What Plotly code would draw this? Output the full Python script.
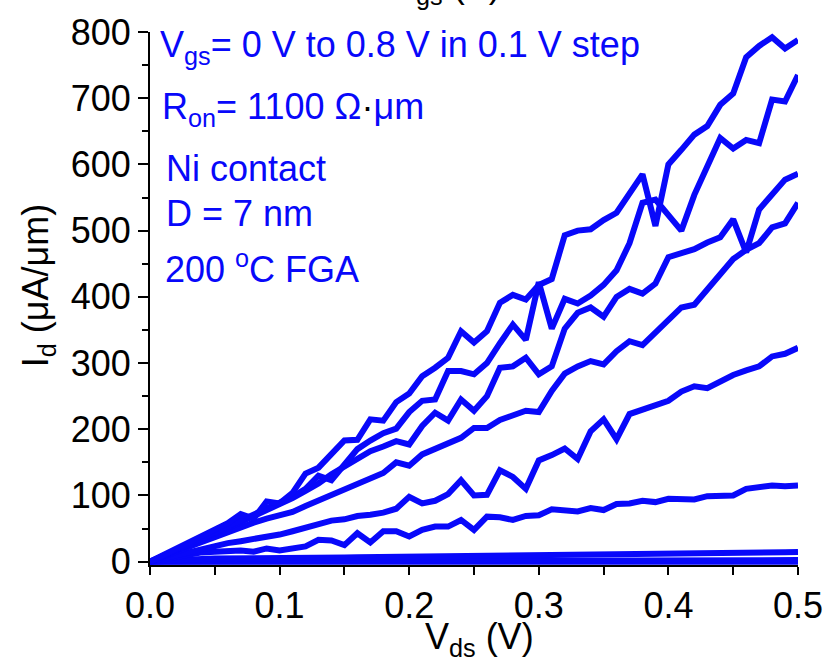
import plotly.graph_objects as go

# Drain voltage sweep (V)
vds = [round(0.01 * i, 2) for i in range(51)]

# Drain current (uA/um) for each gate voltage, Vgs = 0.8 V down to 0 V
id_vgs_08 = [0, 10, 20, 29, 39, 48, 58, 72, 65, 91, 88, 104, 133, 142, 162, 183, 184, 215, 213, 241,
             254, 280, 293, 308, 348, 331, 348, 391, 403, 396, 418, 427, 493, 500, 502, 516, 527, 557,
             585, 507, 600, 622, 645, 658, 690, 707, 762, 779, 792, 775, 788]
id_vgs_07 = [0, 9, 18, 27, 36, 45, 53, 61, 70, 79, 88, 98, 110, 130, 123, 148, 170, 183, 194, 201,
             226, 243, 245, 288, 288, 283, 300, 330, 358, 335, 422, 352, 397, 390, 402, 418, 440, 481,
             542, 547, 522, 500, 554, 597, 640, 624, 637, 632, 698, 695, 735]
id_vgs_06 = [0, 9, 17, 26, 34, 43, 51, 60, 68, 77, 86, 96, 107, 118, 132, 144, 156, 167, 174, 182,
             177, 205, 225, 213, 245, 228, 250, 293, 295, 308, 283, 295, 352, 376, 384, 370, 400, 412,
             405, 420, 460, 465, 472, 482, 490, 517, 467, 532, 556, 577, 586]
id_vgs_05 = [0, 8, 16, 23, 30, 37, 45, 53, 59, 65, 69, 75, 84, 92, 100, 110, 118, 125, 134, 150,
             145, 162, 170, 179, 187, 202, 202, 214, 220, 228, 226, 258, 284, 295, 303, 298, 318, 333,
             327, 347, 367, 384, 388, 410, 434, 457, 471, 481, 505, 511, 542]
id_vgs_04 = [0, 5, 10, 15, 20, 25, 28, 31, 34, 38, 41, 46, 51, 56, 62, 64, 69, 71, 74, 80,
             98, 88, 92, 102, 123, 100, 101, 138, 128, 110, 153, 161, 171, 155, 197, 215, 185, 223,
             230, 238, 243, 257, 265, 262, 272, 282, 289, 295, 310, 314, 323]
id_vgs_03 = [0, 4, 8, 11, 14, 15, 16, 17, 15, 20, 17, 20, 23, 33, 32, 25, 43, 29, 46, 46,
             38, 48, 53, 53, 63, 48, 68, 67, 63, 69, 70, 79, 77, 76, 81, 78, 87, 88,
             92, 90, 95, 95, 94, 99, 100, 100, 110, 112, 115, 114, 115]
id_vgs_02 = [0, 1.5, 2.5, 3.5, 4.2, 4.8, 5.2, 5.5, 5.7, 5.9, 6.0, 6.1, 6.2, 6.3, 6.4, 6.5, 6.6, 6.8,
             6.9, 7.0, 7.2, 7.3, 7.4, 7.6, 7.7, 7.8, 7.9, 8.0, 8.2, 8.3, 8.5, 8.7, 8.9, 9.0, 9.2,
             9.4, 9.6, 9.8, 10.0, 10.2, 10.5, 10.7, 10.9, 11.0, 11.2, 11.5, 13.0, 13.6, 14.0, 14.3, 14.8]
id_vgs_01 = [0, 0.2, 0.4, 0.5, 0.6, 0.7, 0.7, 0.8, 0.8, 0.9, 0.9, 0.9, 1.0, 1.0, 1.0, 1.1, 1.1, 1.1,
             1.2, 1.2, 1.2, 1.3, 1.3, 1.3, 1.4, 1.4, 1.4, 1.5, 1.5, 1.5, 1.6, 1.6, 1.6, 1.7, 1.7,
             1.7, 1.8, 1.8, 1.8, 1.9, 1.9, 2.0, 2.0, 2.0, 2.1, 2.1, 2.2, 2.2, 2.3, 2.3, 2.4]
id_vgs_00 = [0] * 51

curves = [id_vgs_00, id_vgs_01, id_vgs_02, id_vgs_03, id_vgs_04,
          id_vgs_05, id_vgs_06, id_vgs_07, id_vgs_08]

x_ticks = [0.0, 0.1, 0.2, 0.3, 0.4, 0.5]
y_ticks = [0, 100, 200, 300, 400, 500, 600, 700, 800]

BLUE = "rgb(8,8,250)"
FONT = "Liberation Sans, Arial, sans-serif"

W, H = 835, 662
ML, MR, MT, MB = 150, 36, 28, 97
PW, PH = W - ML - MR, H - MT - MB


def pxx(px):
    return (px - ML) / PW


def pxy(py):
    return (H - MB - py) / PH


fig = go.Figure()
for ys in curves:
    fig.add_trace(go.Scatter(x=vds, y=ys, mode="lines",
                             line=dict(color=BLUE, width=6),
                             showlegend=False, hoverinfo="skip"))

axis_common = dict(showline=True, linecolor="black", linewidth=2,
                   ticks="outside", tickcolor="black", tickwidth=2,
                   showgrid=False, zeroline=False,
                   tickfont=dict(family=FONT, size=36, color="black"))

fig.update_xaxes(range=[0, 0.5], tickvals=x_ticks, tickformat=".1f", ticklen=8,
                 minor=dict(ticks="outside", ticklen=8, dtick=0.05, tickcolor="black", tickwidth=2),
                 **axis_common)
fig.update_yaxes(range=[-5, 800], tickvals=y_ticks, ticklen=10,
                 minor=dict(ticks="outside", ticklen=6, dtick=50, tickcolor="black", tickwidth=2),
                 **axis_common)

blue_font = dict(family=FONT, size=36, color=BLUE)
labels = [
    ("V<sub>gs</sub>= 0 V to 0.8 V in 0.1 V step", 158, 43),
    ("R<sub>on</sub>= 1100 \u03a9<span style='color:black'>\u00b7</span>\u03bcm", 160, 106),
    ("Ni contact", 164, 166),
    ("D = 7 nm", 164, 211),
    ("200 <sup>o</sup>C FGA", 163, 265),
]
annotations = []
for text, px, py in labels:
    annotations.append(dict(text=text, x=pxx(px), y=pxy(py), xref="paper", yref="paper",
                            xanchor="left", yanchor="middle", showarrow=False, font=blue_font))

black_font = dict(family=FONT, size=36, color="black")
annotations.append(dict(text="I<sub>d</sub> (\u03bcA/\u03bcm)", x=pxx(38), y=pxy(283),
                        xref="paper", yref="paper", textangle=-90, showarrow=False,
                        xanchor="center", yanchor="middle", font=black_font))
annotations.append(dict(text="V<sub>ds</sub> (V)", x=pxx(480), y=pxy(640),
                        xref="paper", yref="paper", showarrow=False,
                        xanchor="center", yanchor="middle", font=black_font))
annotations.append(dict(text="V<sub>gs</sub> (V)", x=pxx(447), y=pxy(8),
                        xref="paper", yref="paper", showarrow=False,
                        xanchor="center", yanchor="bottom", font=black_font))

fig.update_layout(width=W, height=H, margin=dict(l=ML, r=MR, t=MT, b=MB),
                  paper_bgcolor="white", plot_bgcolor="white",
                  annotations=annotations)

fig.write_html("out.html")
